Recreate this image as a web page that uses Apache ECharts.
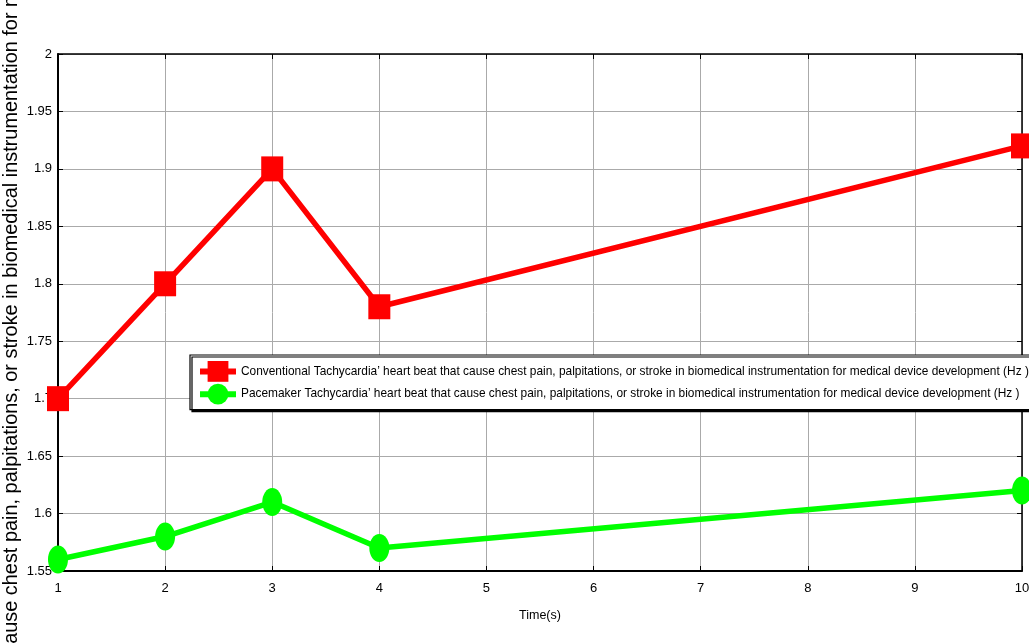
<!DOCTYPE html>
<html><head><meta charset="utf-8">
<script src="https://cdn.jsdelivr.net/npm/echarts@6/dist/echarts.min.js"></script>
<style>html,body{margin:0;padding:0;background:#fff}#c{width:1029px;height:643px}</style>
</head><body><div id="c"></div>
<script>
var timeValues = [1, 2, 3, 4, 10];
var conventional = [1.70, 1.80, 1.90, 1.78, 1.92];
var pacemaker = [1.56, 1.58, 1.61, 1.57, 1.62];
var seriesNames = [
  "Conventional Tachycardia\u2019 heart beat that cause chest pain, palpitations, or stroke in biomedical instrumentation for medical device development (Hz )",
  "Pacemaker Tachycardia\u2019 heart beat that cause chest pain, palpitations, or stroke in biomedical instrumentation for medical device development (Hz )"
];
var xName = "Time(s)";
var yName = "Tachycardia\u2019 heart beat that cause chest pain, palpitations, or stroke in biomedical instrumentation for medical device development (Hz )";

function pairs(xs, ys){ return xs.map(function(x,i){ return [x, ys[i]]; }); }
var sans = "'Liberation Sans',Arial,sans-serif";
var chart = echarts.init(document.getElementById('c'), null, {renderer:'canvas'});
chart.setOption({
  animation:false,
  backgroundColor:'#fff',
  grid:{left:58, right:7, top:54, bottom:72, show:false, containLabel:false, outerBoundsMode:'none'},
  legend:{
    orient:'vertical', left:190, top:355,
    padding:[6,8,5,7], itemGap:2, itemWidth:36, itemHeight:26,
    backgroundColor:'#fff', borderColor:'#000', borderWidth:1.2,
    shadowColor:'#000', shadowOffsetX:2, shadowOffsetY:2, shadowBlur:0,
    lineStyle:{width:6},
    textStyle:{fontFamily:sans, fontSize:11.9, color:'#000'},
    data: seriesNames
  },
  xAxis:[{
    type:'value', min:1, max:10, interval:1,
    name:xName, nameLocation:'middle', nameGap:38,
    nameTextStyle:{fontFamily:sans, fontSize:12.5, color:'#000'},
    axisLine:{onZero:false, lineStyle:{color:'#000', width:2}},
    axisTick:{inside:true, length:5, lineStyle:{color:'#000'}},
    axisLabel:{fontFamily:sans, fontSize:13, color:'#000', margin:11},
    splitLine:{show:true, lineStyle:{color:'#aaa', width:1}}
  },{
    type:'value', min:1, max:10, interval:1, position:'top',
    axisLine:{onZero:false, lineStyle:{color:'#000', width:1.5}},
    axisTick:{inside:true, length:5, lineStyle:{color:'#000'}},
    axisLabel:{show:false}, splitLine:{show:false}
  }],
  yAxis:[{
    type:'value', min:1.55, max:2, interval:0.05,
    name:yName, nameLocation:'middle', nameGap:36, nameRotate:90, nameMoveOverlap:false,
    nameTextStyle:{fontFamily:sans, fontSize:19.9, color:'#000', padding:[0,0,0,14]},
    axisLine:{onZero:false, lineStyle:{color:'#000', width:2}},
    axisTick:{inside:true, length:5, lineStyle:{color:'#000'}},
    axisLabel:{fontFamily:sans, fontSize:13, color:'#000', margin:6},
    splitLine:{show:true, lineStyle:{color:'#aaa', width:1}}
  },{
    type:'value', min:1.55, max:2, interval:0.05, position:'right',
    axisLine:{show:true, onZero:false, lineStyle:{color:'#000', width:1.5}},
    axisTick:{show:true, inside:true, length:5, lineStyle:{color:'#000'}},
    axisLabel:{show:false}, splitLine:{show:false}
  }],
  series:[{
    name:seriesNames[0], type:'line', data:pairs(timeValues, conventional),
    symbol:'rect', symbolSize:[22,25],
    lineStyle:{color:'#ff0000', width:5.5}, itemStyle:{color:'#ff0000'}
  },{
    name:seriesNames[1], type:'line', data:pairs(timeValues, pacemaker),
    symbol:'circle', symbolSize:[20,28],
    lineStyle:{color:'#00ff00', width:5.5}, itemStyle:{color:'#00ff00'}
  }]
});
</script></body></html>
